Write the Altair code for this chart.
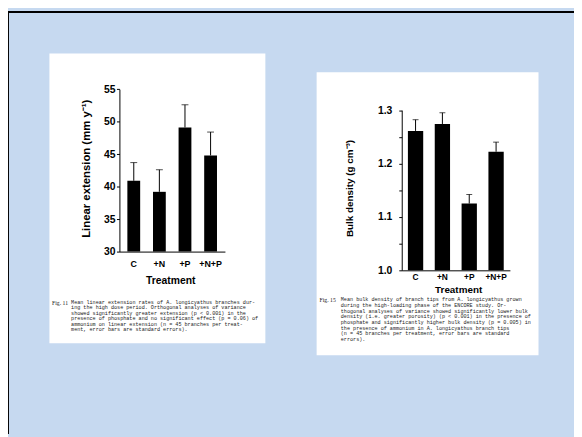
import altair as alt
import pandas as pd

# ---- data ----
treatments = ["C", "+N", "+P", "+N+P"]
extension_mean = [40.9, 39.2, 49.1, 44.8]
extension_se = [2.8, 3.4, 3.5, 3.6]
density_mean = [1.261, 1.274, 1.125, 1.222]
density_se = [0.021, 0.021, 0.017, 0.018]

caption_left_label = "Fig. 11"
caption_left = [
    "Mean linear extension rates of A. longicyathus branches dur-",
    "ing the high dose period. Orthogonal analyses of variance",
    "showed significantly greater extension (p < 0.001) in the",
    "presence of phosphate and no significant effect (p = 0.06) of",
    "ammonium on linear extension (n = 45 branches per treat-",
    "ment, error bars are standard errors).",
]
caption_right_label = "Fig. 15"
caption_right = [
    "Mean bulk density of branch tips from A. longicyathus grown",
    "during the high-loading phase of the ENCORE study. Or-",
    "thogonal analyses of variance showed significantly lower bulk",
    "density (i.e. greater porosity) (p < 0.001) in the presence of",
    "phosphate and significantly higher bulk density (p = 0.005) in",
    "the presence of ammonium in A. longicyathus branch tips",
    "(n = 45 branches per treatment, error bars are standard",
    "errors).",
]

W, H = 574, 429
SANS = "Liberation Sans"
CAPFONT = "Liberation Mono"
LABFONT = "Liberation Serif"
one = alt.Data(values=[{"k": 1}])

ext_df = pd.DataFrame({"t": treatments, "m": extension_mean, "se": extension_se})
ext_df["hi"] = ext_df["m"] + ext_df["se"]
den_df = pd.DataFrame({"t": treatments, "m": density_mean, "se": density_se})
den_df["hi"] = den_df["m"] + den_df["se"]

# ---- slide decorations ----
top_border = alt.Chart(one).mark_rule(color="black", strokeWidth=2).encode(
    x=alt.value(0), x2=alt.value(W), y=alt.value(1))
left_border = alt.Chart(one).mark_rule(color="black", strokeWidth=1).encode(
    x=alt.value(0.5), y=alt.value(0), y2=alt.value(H))
panel_left = alt.Chart(one).mark_rect(color="white").encode(
    x=alt.value(42), x2=alt.value(261), y=alt.value(43), y2=alt.value(337))
panel_right = alt.Chart(one).mark_rect(color="white").encode(
    x=alt.value(313), x2=alt.value(538), y=alt.value(62), y2=alt.value(349))


def txt(text, x, y, size, angle=0, bold=True, font=SANS, align="center",
        baseline="middle", lh=None, color="black"):
    kw = dict(font=font, fontSize=size, fontWeight="bold" if bold else "normal",
              align=align, baseline=baseline, color=color, angle=angle)
    if lh is not None:
        kw["lineHeight"] = lh
    return alt.Chart(one).mark_text(**kw).encode(
        x=alt.value(x), y=alt.value(y), text=alt.value(text))


CAP = 5.2
CAPCOL = "#222222"
texts = [
    txt("Linear extension (mm y\u207b\u00b9)", 80, 160, 11.5, angle=270),
    txt("Treatment", 165, 274, 10.5),
    txt("Bulk density (g cm\u207b\u00b3)", 347, 180, 10, angle=270),
    txt("Treatment", 457, 283, 10),
    txt(caption_left_label, 44.7, 293, 5.8, bold=False, font=LABFONT,
        align="left", baseline="top", color=CAPCOL),
    txt(caption_left, 64, 293, CAP, bold=False, font=CAPFONT,
        align="left", baseline="top", lh=5.6, color=CAPCOL),
    txt(caption_right_label, 316, 290.5, 5.8, bold=False, font=LABFONT,
        align="left", baseline="top", color=CAPCOL),
    txt(caption_right, 337.5, 290.5, CAP, bold=False, font=CAPFONT,
        align="left", baseline="top", lh=5.75, color=CAPCOL),
]

# ---- left figure: linear extension ----
xL = alt.X("t:N", sort=treatments, title=None,
           scale=alt.Scale(range=[113, 220], paddingInner=0.5, paddingOuter=0.31),
           axis=alt.Axis(orient="bottom", offset=-(H - 244), ticks=False, zindex=2,
                         labelPadding=8, labelFont=SANS, labelFontWeight="bold",
                         labelFontSize=9, labelColor="black", labelAngle=0,
                         domainColor="black", domainWidth=1))
yL = alt.Y("m:Q", title=None,
           scale=alt.Scale(domain=[30, 55], range=[244, 79.3], zero=False, nice=False),
           axis=alt.Axis(orient="left", offset=-113, values=[30, 35, 40, 45, 50, 55],
                         tickSize=3, tickColor="black", labelPadding=1.5, zindex=2,
                         labelFont=SANS, labelFontWeight="bold", labelFontSize=10.5,
                         labelColor="black", domainColor="black", domainWidth=1,
                         grid=False))
barsL = alt.Chart(ext_df).mark_bar(color="black").encode(x=xL, y=yL, y2=alt.datum(30))
errL = alt.Chart(ext_df).mark_rule(color="black", strokeWidth=1).encode(
    x=alt.X("t:N", sort=treatments), y="m:Q", y2="hi:Q")
capL = alt.Chart(ext_df).mark_tick(color="black", size=7, thickness=1).encode(
    x=alt.X("t:N", sort=treatments), y="hi:Q")
left_fig = alt.layer(barsL, errL, capL)

# ---- right figure: bulk density ----
den_ticks = [round(1.0 + 0.025 * i, 3) for i in range(13)]
xR = alt.X("t:N", sort=treatments, title=None,
           scale=alt.Scale(range=[399.3, 509], paddingInner=0.43, paddingOuter=0.23),
           axis=alt.Axis(orient="bottom", offset=-(H - 263), ticks=False, zindex=2,
                         labelPadding=2, labelFont=SANS, labelFontWeight="bold",
                         labelFontSize=8.5, labelColor="black", labelAngle=0,
                         domainColor="black", domainWidth=1))
yR = alt.Y("m:Q", title=None,
           scale=alt.Scale(domain=[1.0, 1.3], range=[263, 100.5], zero=False, nice=False),
           axis=alt.Axis(orient="left", offset=-399.3, values=den_ticks, zindex=2,
                         labelExpr="abs(datum.value*10 - round(datum.value*10)) < 0.01 ? format(datum.value, '.1f') : ''",
                         tickSize=3, tickColor="black", labelPadding=7,
                         labelFont=SANS, labelFontWeight="bold", labelFontSize=10.5,
                         labelColor="black", domainColor="black", domainWidth=1,
                         grid=False, labelOverlap=False))
barsR = alt.Chart(den_df).mark_bar(color="black").encode(x=xR, y=yR, y2=alt.datum(1.0))
errR = alt.Chart(den_df).mark_rule(color="black", strokeWidth=1).encode(
    x=alt.X("t:N", sort=treatments), y="m:Q", y2="hi:Q")
capR = alt.Chart(den_df).mark_tick(color="black", size=6, thickness=1).encode(
    x=alt.X("t:N", sort=treatments), y="hi:Q")
right_fig = alt.layer(barsR, errR, capR)

chart = alt.layer(
    panel_left, panel_right, top_border, left_border, *texts, left_fig, right_fig
).resolve_scale(x="independent", y="independent").properties(
    width=W, height=H, padding=0, autosize=alt.AutoSizeParams(type="none")
).configure(background="#c6d9f0").configure_view(stroke="transparent")

chart.save("out.html", embed_options={"renderer": "svg", "actions": False})
